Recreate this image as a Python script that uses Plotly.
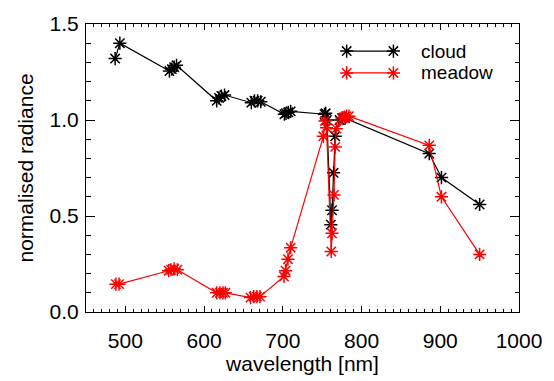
import plotly.graph_objects as go

# ---- data ----
cloud_wl = [487, 493, 556, 559, 562, 565, 616, 619, 622, 626, 660, 664, 668, 672,
            702, 704, 707, 710, 753, 754.5, 756, 761, 762.5, 764.5, 766.5, 772, 776, 779,
            886, 901.5, 950]
cloud_rad = [1.32, 1.40, 1.255, 1.265, 1.275, 1.285, 1.10, 1.115, 1.125, 1.13, 1.09, 1.10, 1.10, 1.095,
             1.03, 1.035, 1.04, 1.045, 1.03, 1.035, 1.00, 0.455, 0.53, 0.725, 0.915, 1.00, 1.01, 1.01,
             0.825, 0.70, 0.56]

meadow_wl = [488, 492, 555, 558, 562, 566, 616, 620, 624, 627, 659, 663, 667, 671,
             701.5, 703.5, 706.5, 710, 751.5, 753.5, 755.5, 761.5, 762.5, 765, 766.5, 768,
             775, 778, 781, 784, 886, 901.5, 950]
meadow_rad = [0.145, 0.145, 0.215, 0.22, 0.225, 0.22, 0.10, 0.10, 0.10, 0.10, 0.075, 0.08, 0.08, 0.08,
              0.185, 0.215, 0.275, 0.335, 0.915, 0.995, 0.96, 0.315, 0.41, 0.61, 0.86, 0.955,
              1.01, 1.015, 1.02, 1.02, 0.868, 0.60, 0.30]

series_names = ["cloud", "meadow"]
series_colors = ["black", "red"]

x_ticks = [500, 600, 700, 800, 900, 1000]
y_ticks = [0.0, 0.5, 1.0, 1.5]

FONT = "Liberation Sans"
FS = 21
LEG_FS = 19

marker_style = lambda col: dict(symbol="asterisk-open", size=11, color=col,
                                line=dict(color=col, width=1.5))

fig = go.Figure()
for wl, rad, name, col in [(cloud_wl, cloud_rad, series_names[0], series_colors[0]),
                           (meadow_wl, meadow_rad, series_names[1], series_colors[1])]:
    fig.add_trace(go.Scatter(
        x=wl, y=rad, mode="lines+markers", name=name, showlegend=False,
        line=dict(color=col, width=1.2),
        marker=marker_style(col),
    ))

# manual legend (IDL style: line with symbols at both ends), on overlay axes
leg_x = [0.602, 0.710]
leg_y = [0.906, 0.830]
for i, (name, col) in enumerate(zip(series_names, series_colors)):
    fig.add_trace(go.Scatter(
        x=leg_x, y=[leg_y[i], leg_y[i]], xaxis="x2", yaxis="y2",
        mode="lines+markers", showlegend=False, hoverinfo="skip",
        line=dict(color=col, width=1.2),
        marker=marker_style(col),
    ))
    fig.add_annotation(x=0.769, y=leg_y[i], xref="paper", yref="paper",
                       text=name, showarrow=False, xanchor="left", yanchor="middle",
                       font=dict(family=FONT, size=LEG_FS, color="black"))

axis_common = dict(
    showgrid=False, zeroline=False, showline=True, linecolor="black", linewidth=1,
    mirror="ticks", ticks="inside", tickcolor="black", tickwidth=1,
    tickfont=dict(family=FONT, size=FS, color="black"),
)

fig.update_layout(
    width=554, height=381,
    margin=dict(l=86, r=26, t=13, b=64),
    paper_bgcolor="white", plot_bgcolor="white",
    font=dict(family=FONT, size=FS, color="black"),
    xaxis=dict(range=[450, 1000], tickvals=x_ticks, ticklen=6,
               minor=dict(dtick=10, tick0=450, ticklen=3, ticks="inside", tickcolor="black"),
               ticklabelstandoff=10,
               title=dict(text="wavelength [nm]", font=dict(family=FONT, size=FS), standoff=2),
               **axis_common),
    yaxis=dict(range=[0, 1.5], tickvals=y_ticks, tickformat=".1f", ticklen=9,
               minor=dict(dtick=0.1, tick0=0, ticklen=4.5, ticks="inside", tickcolor="black"),
               ticklabelstandoff=2,
               title=dict(text="normalised radiance", font=dict(family=FONT, size=FS), standoff=10),
               **axis_common),
    xaxis2=dict(range=[0, 1], overlaying="x", visible=False, fixedrange=True),
    yaxis2=dict(range=[0, 1], overlaying="y", visible=False, fixedrange=True),
)

fig.write_html("out.html")
